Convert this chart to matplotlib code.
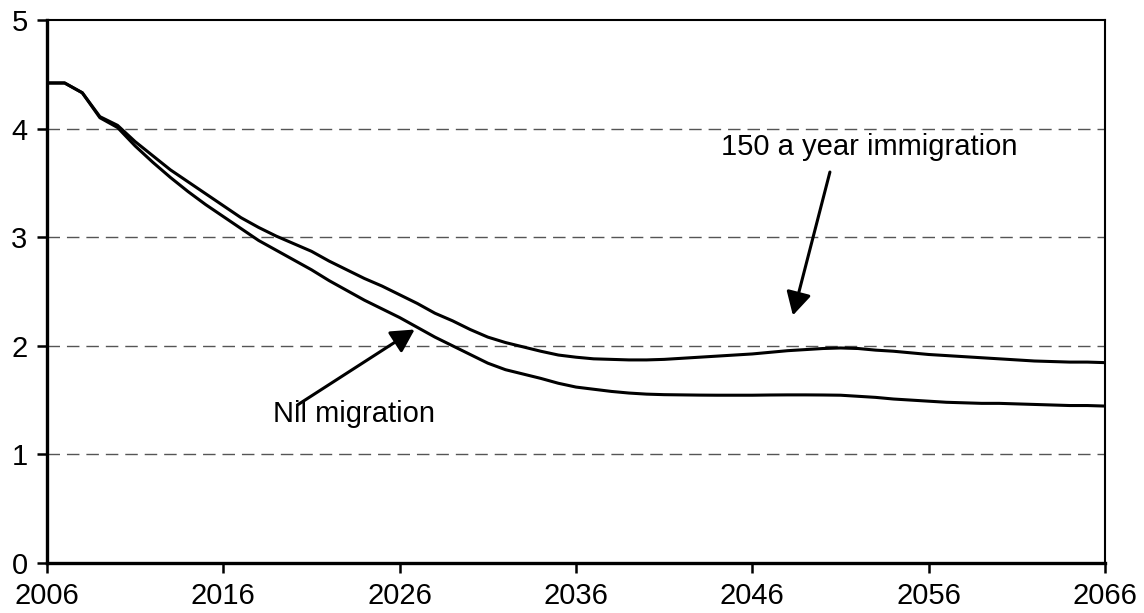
import matplotlib
matplotlib.use("Agg")
import matplotlib.pyplot as plt

years = list(range(2006, 2067))
immigration_150 = [
    4.42, 4.42, 4.33, 4.11, 4.03, 3.88, 3.75, 3.62, 3.51, 3.40,
    3.29, 3.18, 3.09, 3.01, 2.94, 2.87, 2.78, 2.70, 2.62, 2.55,
    2.47, 2.39, 2.30, 2.23, 2.15, 2.08, 2.03, 1.99, 1.95, 1.915,
    1.895, 1.88, 1.875, 1.87, 1.87, 1.875, 1.885, 1.895, 1.905, 1.915,
    1.925, 1.94, 1.955, 1.965, 1.975, 1.98, 1.975, 1.96, 1.95, 1.935,
    1.92, 1.91, 1.90, 1.89, 1.88, 1.87, 1.86, 1.855, 1.85, 1.85,
    1.845,
]
nil_migration = [
    4.42, 4.42, 4.33, 4.10, 4.01, 3.84, 3.69, 3.55, 3.42, 3.30,
    3.19, 3.08, 2.97, 2.88, 2.79, 2.70, 2.60, 2.51, 2.42, 2.34,
    2.26, 2.17, 2.08, 2.00, 1.92, 1.84, 1.78, 1.74, 1.70, 1.655,
    1.62, 1.60, 1.58, 1.565, 1.555, 1.55, 1.548, 1.546, 1.545, 1.545,
    1.545, 1.547, 1.548, 1.548, 1.547, 1.545, 1.535, 1.525, 1.51, 1.50,
    1.49, 1.48, 1.475, 1.47, 1.47, 1.465, 1.46, 1.455, 1.45, 1.45,
    1.445,
]
x_ticks = [2006, 2016, 2026, 2036, 2046, 2056, 2066]
y_ticks = [0, 1, 2, 3, 4, 5]

plt.rcParams['font.family'] = ['Liberation Sans', 'DejaVu Sans']

fig = plt.figure(figsize=(11.44, 6.13), dpi=100)
ax = fig.add_axes([47/1144, 50/613, (1105-47)/1144, (563-20)/613])

ax.plot(years, immigration_150, color='black', lw=2.2, solid_joinstyle='round', zorder=3)
ax.plot(years, nil_migration, color='black', lw=2.2, solid_joinstyle='round', zorder=3)

ax.set_xlim(2006, 2066)
ax.set_ylim(0, 5)
ax.set_xticks(x_ticks)
ax.set_yticks(y_ticks)
ax.tick_params(axis='both', labelsize=21, length=7, width=1.8, direction='out', pad=7, color='black')

for y in [1, 2, 3, 4]:
    ax.axhline(y, color='#555555', lw=1.0, ls=(0, (9, 5)), zorder=1)

for side in ['left', 'bottom']:
    ax.spines[side].set_linewidth(2.4)
for side in ['top', 'right']:
    ax.spines[side].set_linewidth(1.5)

arrow_style = dict(arrowstyle='-|>,head_length=0.7,head_width=0.38', color='black', lw=2.2,
                   shrinkA=0, shrinkB=0, mutation_scale=20)

ax.text(2052.65, 3.757, '150 a year immigration', fontsize=21, ha='center', va='baseline')
ax.annotate('', xy=(2048.3, 2.28), xytext=(2050.4, 3.60), arrowprops=arrow_style)

ax.text(2018.82, 1.301, 'Nil migration', fontsize=21, ha='left', va='baseline')
ax.annotate('', xy=(2026.85, 2.15), xytext=(2020.2, 1.455), arrowprops=arrow_style)

fig.savefig('out.png', dpi=100)
